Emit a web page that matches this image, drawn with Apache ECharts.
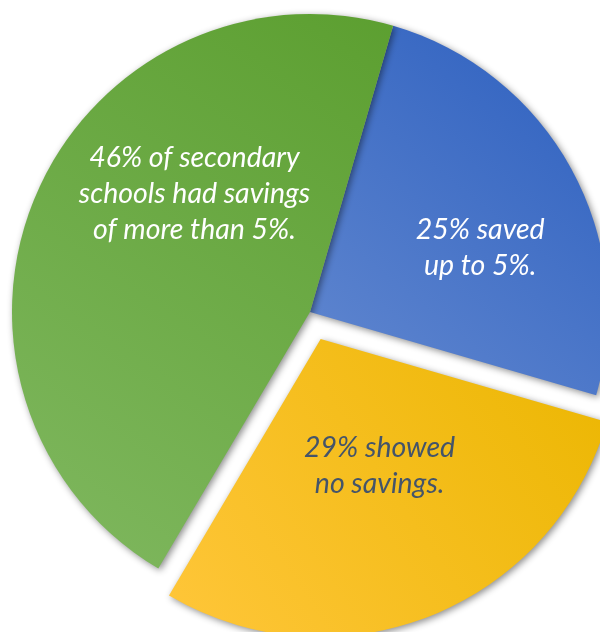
<!DOCTYPE html>
<html>
<head>
<meta charset="utf-8">
<script src="https://cdn.jsdelivr.net/npm/echarts@6/dist/echarts.min.js"></script>
<style>
html,body{margin:0;padding:0;background:#fff;}
#chart{width:600px;height:632px;}
</style>
</head>
<body>
<div id="chart"></div>
<script>
// Data
var categories = ['Saved up to 5%', 'No savings', 'Savings of more than 5%'];
var values = [25, 29, 46];
var labels = [
  '25% saved\nup to 5%.',
  '29% showed\nno savings.',
  '46% of secondary\nschools had savings\nof more than 5%.'
];
var exploded = [false, true, false];

// Styles
var gradients = [
  ['#2c5fbf', '#6288d0'],
  ['#ebb600', '#ffc63a'],
  ['#5c9f30', '#80b860']
];
var textColors = ['#ffffff', '#44546A', '#ffffff'];
var labelShift = [[37, 9], [3, -14], [24, -58]];

var chart = echarts.init(document.getElementById('chart'), null, {renderer: 'canvas'});

var data = categories.map(function (c, i) {
  return {
    name: c,
    value: values[i],
    selected: exploded[i],
    itemStyle: {
      color: {
        type: 'linear', x: 1, y: 0, x2: 0, y2: 1,
        colorStops: [
          {offset: 0, color: gradients[i][0]},
          {offset: 1, color: gradients[i][1]}
        ]
      }
    },
    label: {
      formatter: labels[i],
      color: textColors[i]
    }
  };
});

chart.setOption({
  animation: false,
  series: [{
    type: 'pie',
    center: [310, 312],
    radius: 298,
    startAngle: 73.8,
    clockwise: true,
    selectedMode: 'single',
    selectedOffset: 29,
    silent: true,
    itemStyle: {
      borderWidth: 0,
      shadowBlur: 7,
      shadowColor: 'rgba(0,0,0,0.45)',
      shadowOffsetX: 2,
      shadowOffsetY: 2
    },
    label: {
      show: true,
      position: 'inside',
      fontFamily: 'Lato',
      fontStyle: 'italic',
      fontSize: 28.5,
      lineHeight: 36,
      align: 'center'
    },
    labelLine: {show: false},
    labelLayout: function (params) {
      var s = labelShift[params.dataIndex];
      return {dx: s[0], dy: s[1]};
    },
    emphasis: {disabled: true},
    data: data
  }]
});
</script>
</body>
</html>
